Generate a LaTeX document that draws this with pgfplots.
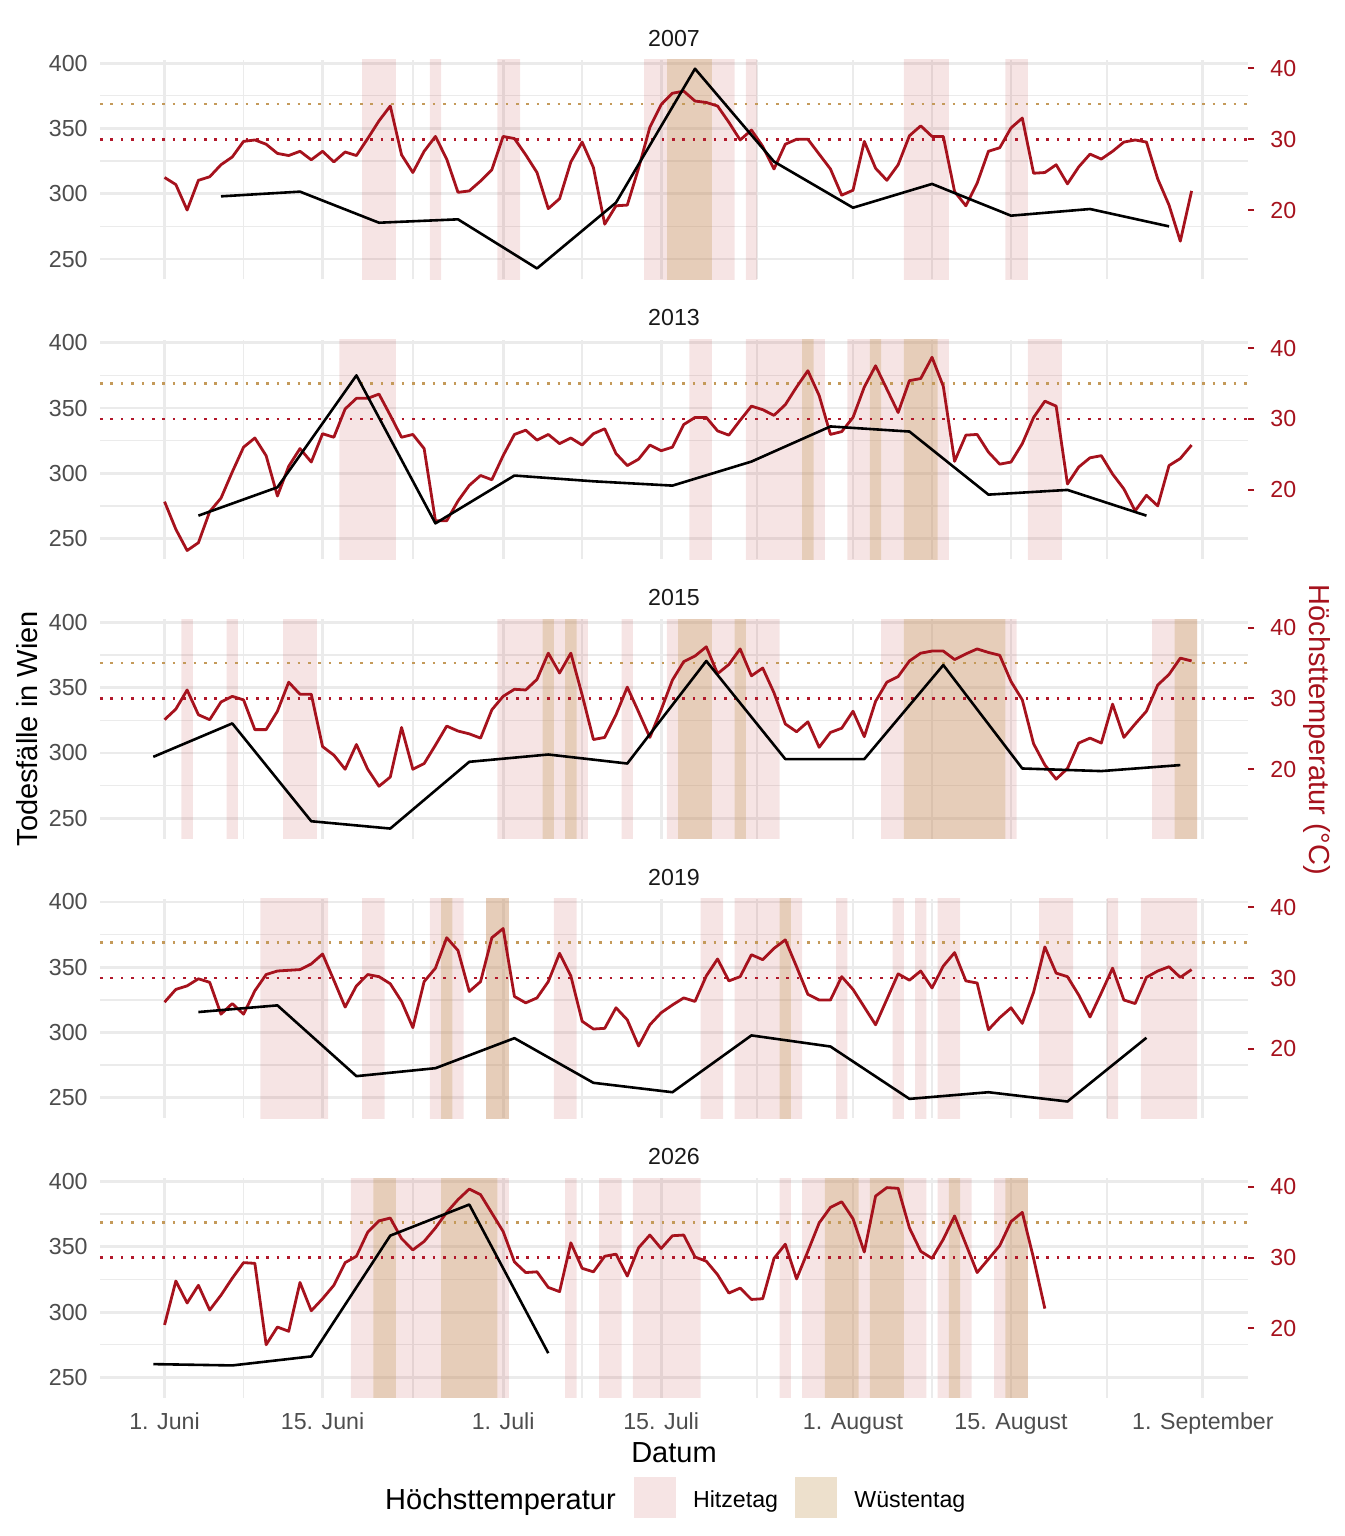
\documentclass[border=0pt]{standalone}
\usepackage{fontspec}
\setmainfont{Liberation Sans}
\usepackage{pgfplots}
\pgfplotsset{compat=1.18}
\definecolor{tred}{HTML}{A6121D}
\definecolor{dred}{HTML}{B2182B}
\definecolor{dtan}{HTML}{C49A5A}
\definecolor{hitz}{HTML}{B22222}
\definecolor{wuest}{HTML}{C8A064}
\definecolor{gridc}{HTML}{EBEBEB}
\definecolor{tickc}{HTML}{4D4D4D}
\newcommand{\tickfont}{\fontsize{11.6pt}{13pt}\selectfont}
\newcommand{\titlefont}{\fontsize{14.5pt}{17pt}\selectfont}
\pgfplotsset{
 base/.style={scale only axis, width=574pt, height=109.7pt, xmin=-5.72, xmax=96.0,
   axis line style={draw=none}, /pgf/number format/assume math mode=true,
   tick label style={font=\tickfont}, anchor=north west},
 deaths/.style={base, ymin=234.4, ymax=402.4},
 temp/.style={base, ymin=10.2, ymax=41.2},
 gridaxis/.style={deaths, xtick={0,14,30,44,61,75,92}, minor xtick={7,22,37,52.5,68,83.5},
   ytick={250,300,350,400}, minor ytick={275,325,375}, grid=both,
   major grid style={draw=gridc, line width=1.4pt}, minor grid style={draw=gridc, line width=0.7pt},
   major tick length=0pt, minor tick length=0pt,
   yticklabel style={text=tickc, inner sep=0pt, xshift=-6pt},
   xticklabels={},
   title style={at={(0.5,1)}, anchor=base, yshift=0.85pt, font=\tickfont, text=black!90}},
 tempaxis/.style={temp, axis x line=none, axis y line*=right, xtick=\empty, ytick={20,30,40},
   yticklabel style={text=tred, anchor=west, inner sep=0pt, xshift=8pt},
   ytick style={draw=tred, line width=1pt}, major tick length=3pt, tick align=outside},
 blackaxis/.style={deaths, hide axis},
 pinkb/.style={fill=hitz, fill opacity=0.12, draw=none},
 tanb/.style={fill=wuest, fill opacity=0.33, draw=none},
 tline/.style={tred, line width=1.4pt, line join=round},
 dline/.style={black, line width=1.3pt, line join=round},
 h30/.style={dred, line width=1.3pt, dash pattern=on 1.3pt off 3.9pt},
 h35/.style={dtan, line width=1.3pt, dash pattern=on 1.3pt off 3.9pt},
}
\begin{document}
\begin{tikzpicture}
% ================= 2007 =================
\begin{axis}[gridaxis, at={(0pt,0pt)}, title={2007}]
\addplot[pinkb] coordinates {(17.5,100)(17.5,500)(20.5,500)(20.5,100)(23.5,100)(23.5,500)(24.5,500)(24.5,100)(29.5,100)(29.5,500)(31.5,500)(31.5,100)(42.5,100)(42.5,500)(50.5,500)(50.5,100)(51.5,100)(51.5,500)(52.5,500)(52.5,100)(65.5,100)(65.5,500)(69.5,500)(69.5,100)(74.5,100)(74.5,500)(76.5,500)(76.5,100)} -- cycle;
\addplot[tanb] coordinates {(44.5,100)(44.5,500)(48.5,500)(48.5,100)} -- cycle;
\end{axis}
\begin{axis}[tempaxis, at={(0pt,0pt)}]
\addplot[h35] coordinates {(-5.72,35)(96,35)};
\addplot[h30] coordinates {(-5.72,30)(96,30)};
\addplot[tline] coordinates {(0,24.6)(1,23.6)(2,20.0)(3,24.2)(4,24.7)(5,26.4)(6,27.5)(7,29.7)(8,29.9)(9,29.3)(10,28.0)(11,27.7)(12,28.3)(13,27.1)(14,28.3)(15,26.8)(16,28.2)(17,27.7)(18,30.1)(19,32.6)(20,34.7)(21,27.8)(22,25.3)(23,28.3)(24,30.4)(25,27.2)(26,22.5)(27,22.7)(28,24.1)(29,25.7)(30,30.4)(31,30.1)(32,27.8)(33,25.3)(34,20.2)(35,21.6)(36,26.8)(37,29.6)(38,26.0)(39,18.0)(40,20.6)(41,20.7)(42,25.9)(43,31.7)(44,34.9)(45,36.5)(46,36.8)(47,35.4)(48,35.2)(49,34.7)(50,32.4)(51,29.9)(52,31.3)(53,29.0)(54,25.8)(55,29.3)(56,30.0)(57,30.0)(58,27.9)(59,25.8)(60,22.1)(61,22.8)(62,29.7)(63,25.9)(64,24.2)(65,26.4)(66,30.5)(67,31.9)(68,30.4)(69,30.4)(70,22.6)(71,20.6)(72,23.8)(73,28.3)(74,28.8)(75,31.6)(76,33.0)(77,25.2)(78,25.3)(79,26.4)(80,23.7)(81,26.1)(82,27.9)(83,27.2)(84,28.3)(85,29.6)(86,29.9)(87,29.6)(88,24.4)(89,20.7)(90,15.6)(91,22.7)};
\end{axis}
\begin{axis}[blackaxis, at={(0pt,0pt)}]
\addplot[dline] coordinates {(5,298.0)(12,301.6)(19,277.8)(26,280.4)(33,242.8)(40,293.2)(47,395.7)(54,324.6)(61,289.3)(68,307.5)(75,283.2)(82,288.3)(89,275.0)};
\end{axis}
% ================= 2013 =================
\begin{axis}[gridaxis, at={(0pt,-139.8pt)}, title={2013}]
\addplot[pinkb] coordinates {(15.5,100)(15.5,500)(20.5,500)(20.5,100)(46.5,100)(46.5,500)(48.5,500)(48.5,100)(51.5,100)(51.5,500)(58.5,500)(58.5,100)(60.5,100)(60.5,500)(69.5,500)(69.5,100)(76.5,100)(76.5,500)(79.5,500)(79.5,100)} -- cycle;
\addplot[tanb] coordinates {(56.5,100)(56.5,500)(57.5,500)(57.5,100)(62.5,100)(62.5,500)(63.5,500)(63.5,100)(65.5,100)(65.5,500)(68.5,500)(68.5,100)} -- cycle;
\end{axis}
\begin{axis}[tempaxis, at={(0pt,-139.8pt)}]
\addplot[h35] coordinates {(-5.72,35)(96,35)};
\addplot[h30] coordinates {(-5.72,30)(96,30)};
\addplot[tline] coordinates {(0,18.3)(1,14.4)(2,11.4)(3,12.5)(4,16.9)(5,18.8)(6,22.5)(7,26.0)(8,27.3)(9,24.8)(10,19.1)(11,23.3)(12,25.8)(13,23.9)(14,27.9)(15,27.4)(16,31.4)(17,32.9)(18,32.9)(19,33.5)(20,30.5)(21,27.4)(22,27.8)(23,25.8)(24,15.6)(25,15.6)(26,18.4)(27,20.6)(28,22.0)(29,21.4)(30,24.8)(31,27.8)(32,28.4)(33,27.0)(34,27.8)(35,26.5)(36,27.3)(37,26.3)(38,27.9)(39,28.6)(40,25.1)(41,23.4)(42,24.3)(43,26.3)(44,25.5)(45,26.0)(46,29.2)(47,30.2)(48,30.2)(49,28.3)(50,27.7)(51,29.8)(52,31.8)(53,31.3)(54,30.5)(55,32.0)(56,34.5)(57,36.8)(58,33.3)(59,27.8)(60,28.2)(61,30.2)(62,34.5)(63,37.5)(64,34.2)(65,30.9)(66,35.4)(67,35.7)(68,38.7)(69,34.6)(70,24.0)(71,27.7)(72,27.8)(73,25.3)(74,23.6)(75,23.9)(76,26.5)(77,30.2)(78,32.5)(79,31.8)(80,20.8)(81,23.2)(82,24.5)(83,24.8)(84,22.2)(85,20.1)(86,17.0)(87,19.2)(88,17.7)(89,23.4)(90,24.4)(91,26.3)};
\end{axis}
\begin{axis}[blackaxis, at={(0pt,-139.8pt)}]
\addplot[dline] coordinates {(3,267.6)(10,289.3)(17,375.0)(24,261.7)(31,298.3)(38,293.9)(45,290.6)(52,309.0)(59,335.9)(66,332.0)(73,283.7)(80,287.3)(87,267.6)};
\end{axis}
% ================= 2015 =================
\begin{axis}[gridaxis, at={(0pt,-279.6pt)}, title={2015}]
\addplot[pinkb] coordinates {(1.5,100)(1.5,500)(2.5,500)(2.5,100)(5.5,100)(5.5,500)(6.5,500)(6.5,100)(10.5,100)(10.5,500)(13.5,500)(13.5,100)(29.5,100)(29.5,500)(37.5,500)(37.5,100)(40.5,100)(40.5,500)(41.5,500)(41.5,100)(44.5,100)(44.5,500)(54.5,500)(54.5,100)(63.5,100)(63.5,500)(75.5,500)(75.5,100)(87.5,100)(87.5,500)(91.5,500)(91.5,100)} -- cycle;
\addplot[tanb] coordinates {(33.5,100)(33.5,500)(34.5,500)(34.5,100)(35.5,100)(35.5,500)(36.5,500)(36.5,100)(45.5,100)(45.5,500)(48.5,500)(48.5,100)(50.5,100)(50.5,500)(51.5,500)(51.5,100)(65.5,100)(65.5,500)(74.5,500)(74.5,100)(89.5,100)(89.5,500)(91.5,500)(91.5,100)} -- cycle;
\end{axis}
\begin{axis}[tempaxis, at={(0pt,-279.6pt)}]
\addplot[h35] coordinates {(-5.72,35)(96,35)};
\addplot[h30] coordinates {(-5.72,30)(96,30)};
\addplot[tline] coordinates {(0,27.0)(1,28.5)(2,31.2)(3,27.7)(4,27.0)(5,29.5)(6,30.3)(7,29.8)(8,25.6)(9,25.6)(10,28.2)(11,32.3)(12,30.6)(13,30.6)(14,23.2)(15,22.0)(16,20.0)(17,23.5)(18,20.0)(19,17.6)(20,18.9)(21,25.9)(22,20.0)(23,20.8)(24,23.4)(25,26.1)(26,25.4)(27,25.0)(28,24.4)(29,28.4)(30,30.3)(31,31.3)(32,31.2)(33,32.7)(34,36.4)(35,33.6)(36,36.4)(37,30.5)(38,24.2)(39,24.5)(40,27.7)(41,31.6)(42,28.1)(43,24.5)(44,28.4)(45,32.6)(46,35.2)(47,36.0)(48,37.3)(49,33.5)(50,34.8)(51,37.0)(52,33.2)(53,34.3)(54,30.8)(55,26.4)(56,25.3)(57,26.7)(58,23.1)(59,25.2)(60,25.8)(61,28.2)(62,24.6)(63,29.6)(64,32.3)(65,33.1)(66,35.3)(67,36.4)(68,36.7)(69,36.7)(70,35.5)(71,36.3)(72,37.0)(73,36.5)(74,36.1)(75,32.4)(76,29.8)(77,23.6)(78,20.6)(79,18.6)(80,20.1)(81,23.7)(82,24.4)(83,23.7)(84,29.2)(85,24.5)(86,26.4)(87,28.2)(88,31.9)(89,33.4)(90,35.7)(91,35.3)};
\end{axis}
\begin{axis}[blackaxis, at={(0pt,-279.6pt)}]
\addplot[dline] coordinates {(-1,297.0)(6,322.6)(13,247.7)(20,242.1)(27,293.2)(34,298.8)(41,291.9)(48,370.4)(55,295.3)(62,295.3)(69,367.3)(76,288.1)(83,286.1)(90,290.7)};
\end{axis}
% ================= 2019 =================
\begin{axis}[gridaxis, at={(0pt,-419.4pt)}, title={2019}]
\addplot[pinkb] coordinates {(8.5,100)(8.5,500)(14.5,500)(14.5,100)(17.5,100)(17.5,500)(19.5,500)(19.5,100)(23.5,100)(23.5,500)(26.5,500)(26.5,100)(28.5,100)(28.5,500)(30.5,500)(30.5,100)(34.5,100)(34.5,500)(36.5,500)(36.5,100)(47.5,100)(47.5,500)(49.5,500)(49.5,100)(50.5,100)(50.5,500)(56.5,500)(56.5,100)(59.5,100)(59.5,500)(60.5,500)(60.5,100)(64.5,100)(64.5,500)(65.5,500)(65.5,100)(66.5,100)(66.5,500)(67.5,500)(67.5,100)(68.5,100)(68.5,500)(70.5,500)(70.5,100)(77.5,100)(77.5,500)(80.5,500)(80.5,100)(83.5,100)(83.5,500)(84.5,500)(84.5,100)(86.5,100)(86.5,500)(91.5,500)(91.5,100)} -- cycle;
\addplot[tanb] coordinates {(24.5,100)(24.5,500)(25.5,500)(25.5,100)(28.5,100)(28.5,500)(30.5,500)(30.5,100)(54.5,100)(54.5,500)(55.5,500)(55.5,100)} -- cycle;
\end{axis}
\begin{axis}[tempaxis, at={(0pt,-419.4pt)}]
\addplot[h35] coordinates {(-5.72,35)(96,35)};
\addplot[h30] coordinates {(-5.72,30)(96,30)};
\addplot[tline] coordinates {(0,26.6)(1,28.4)(2,28.9)(3,29.9)(4,29.4)(5,24.9)(6,26.4)(7,24.9)(8,28.2)(9,30.5)(10,31.0)(11,31.1)(12,31.2)(13,32.0)(14,33.4)(15,29.7)(16,25.9)(17,28.9)(18,30.5)(19,30.2)(20,29.2)(21,26.7)(22,23.0)(23,29.5)(24,31.4)(25,35.7)(26,33.9)(27,28.1)(28,29.5)(29,35.7)(30,37.0)(31,27.4)(32,26.5)(33,27.2)(34,29.5)(35,33.5)(36,30.3)(37,23.9)(38,22.8)(39,22.9)(40,25.8)(41,24.1)(42,20.4)(43,23.4)(44,25.1)(45,26.2)(46,27.2)(47,26.7)(48,30.3)(49,32.7)(50,29.6)(51,30.2)(52,33.3)(53,32.6)(54,34.2)(55,35.4)(56,31.6)(57,27.7)(58,26.9)(59,26.9)(60,30.2)(61,28.4)(62,25.9)(63,23.4)(64,27.0)(65,30.6)(66,29.7)(67,31.0)(68,28.6)(69,31.7)(70,33.6)(71,29.6)(72,29.3)(73,22.7)(74,24.4)(75,25.8)(76,23.6)(77,28.0)(78,34.4)(79,30.7)(80,30.2)(81,27.6)(82,24.5)(83,27.9)(84,31.4)(85,26.9)(86,26.4)(87,30.1)(88,31.0)(89,31.6)(90,30.1)(91,31.2)};
\end{axis}
\begin{axis}[blackaxis, at={(0pt,-419.4pt)}]
\addplot[dline] coordinates {(3,315.7)(10,320.8)(17,266.6)(24,272.7)(31,295.7)(38,261.5)(45,254.3)(52,297.8)(59,289.3)(66,249.2)(73,254.3)(80,247.2)(87,296.0)};
\end{axis}
% ================= 2026 =================
\begin{axis}[gridaxis, at={(0pt,-559.2pt)}, title={2026},
  xticklabels={1. Juni,15. Juni,1. Juli,15. Juli,1. August,15. August,1. September},
  xticklabel style={text=tickc, anchor=base, yshift=-15.6pt}]
\addplot[pinkb] coordinates {(16.5,100)(16.5,500)(30.5,500)(30.5,100)(35.5,100)(35.5,500)(36.5,500)(36.5,100)(38.5,100)(38.5,500)(40.5,500)(40.5,100)(41.5,100)(41.5,500)(47.5,500)(47.5,100)(54.5,100)(54.5,500)(55.5,500)(55.5,100)(56.5,100)(56.5,500)(67.5,500)(67.5,100)(68.5,100)(68.5,500)(71.5,500)(71.5,100)(73.5,100)(73.5,500)(76.5,500)(76.5,100)} -- cycle;
\addplot[tanb] coordinates {(18.5,100)(18.5,500)(20.5,500)(20.5,100)(24.5,100)(24.5,500)(29.5,500)(29.5,100)(58.5,100)(58.5,500)(61.5,500)(61.5,100)(62.5,100)(62.5,500)(65.5,500)(65.5,100)(69.5,100)(69.5,500)(70.5,500)(70.5,100)(74.5,100)(74.5,500)(76.5,500)(76.5,100)} -- cycle;
\end{axis}
\begin{axis}[tempaxis, at={(0pt,-559.2pt)}]
\addplot[h35] coordinates {(-5.72,35)(96,35)};
\addplot[h30] coordinates {(-5.72,30)(96,30)};
\addplot[tline] coordinates {(0,20.5)(1,26.7)(2,23.6)(3,26.1)(4,22.6)(5,24.7)(6,27.1)(7,29.3)(8,29.2)(9,17.7)(10,20.2)(11,19.6)(12,26.5)(13,22.5)(14,24.2)(15,26.1)(16,29.3)(17,30.2)(18,33.6)(19,35.2)(20,35.6)(21,32.7)(22,31.1)(23,32.3)(24,34.2)(25,36.4)(26,38.2)(27,39.7)(28,38.9)(29,36.3)(30,33.7)(31,29.4)(32,27.9)(33,28.0)(34,25.8)(35,25.2)(36,32.1)(37,28.5)(38,28.0)(39,30.2)(40,30.5)(41,27.4)(42,31.4)(43,33.2)(44,31.3)(45,33.1)(46,33.2)(47,30.1)(48,29.5)(49,27.6)(50,25.0)(51,25.7)(52,24.1)(53,24.2)(54,29.9)(55,31.9)(56,27.0)(57,30.9)(58,34.9)(59,37.1)(60,37.9)(61,35.5)(62,30.8)(63,38.7)(64,39.9)(65,39.8)(66,34.2)(67,30.9)(68,29.9)(69,32.6)(70,35.9)(71,31.9)(72,27.9)(73,29.8)(74,31.7)(75,35.1)(76,36.4)(77,29.9)(78,22.8)};
\end{axis}
\begin{axis}[blackaxis, at={(0pt,-559.2pt)}]
\addplot[dline] coordinates {(-1,260.2)(6,259.2)(13,266.1)(20,358.6)(27,382.4)(34,268.6)};
\end{axis}
% ================= labels & legend =================
\node[rotate=90, anchor=base, font=\titlefont] at (-31.3pt,-334.4pt) {Todesfälle in Wien};
\node[rotate=-90, anchor=base, font=\titlefont, text=tred] at (604.5pt,-335pt) {Höchsttemperatur (°C)};
\node[anchor=base, font=\titlefont] at (287pt,-701pt) {Datum};
\node[anchor=base west, font=\titlefont, inner sep=0pt] at (142.4pt,-724.5pt) {Höchsttemperatur};
\fill[hitz!12] (267pt,-708.5pt) rectangle (288pt,-729pt);
\node[anchor=base west, font=\tickfont, inner sep=0pt] at (296.3pt,-723.7pt) {Hitzetag};
\fill[wuest!33] (347.5pt,-708.5pt) rectangle (368.5pt,-729pt);
\node[anchor=base west, font=\tickfont, inner sep=0pt] at (377pt,-723.7pt) {Wüstentag};
\pgfresetboundingbox
\path (-50pt,30pt) rectangle (622pt,-738pt);
\end{tikzpicture}
\end{document}
